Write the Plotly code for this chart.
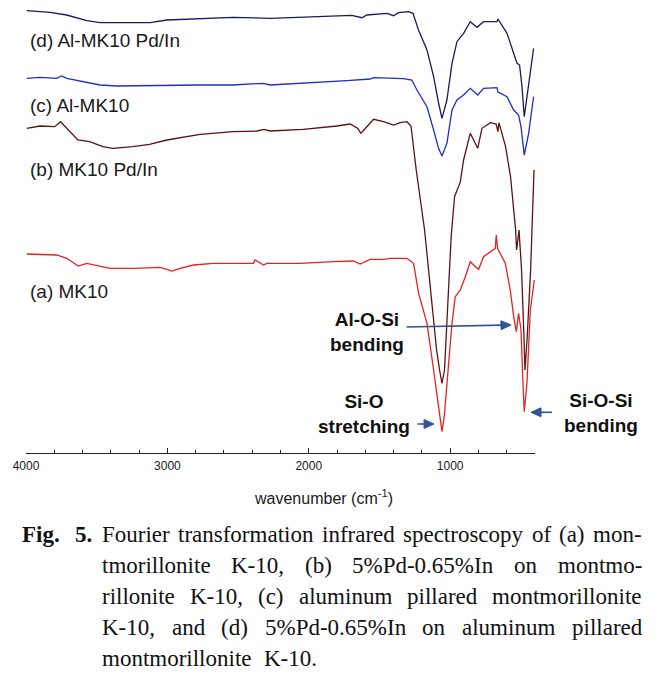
import math
import plotly.graph_objects as go

# ---------------- data ----------------
# wavenumber (cm-1) and stacked relative transmittance (a.u.)
wn_d = [3995, 3830, 3712, 3570, 3476, 3358, 3122, 3004, 2769, 2535,
        2273, 2040, 1801, 1695, 1624, 1589, 1447, 1400, 1365, 1295,
        1263, 1224, 1164, 1117, 1082, 1058, 1023, 987, 952, 905,
        858, 810, 764, 669, 662, 598, 551, 527, 509, 492,
        476, 445, 410]
t_d = [442.3, 440.7, 438, 432.3, 430.3, 430.3, 430.3, 433, 434.7, 435.7,
       434.7, 435.7, 437, 437.7, 435.3, 438, 439.7, 437.3, 440.3, 441.3,
       439.7, 423, 403, 376.3, 350, 334.7, 353, 389.7, 411.3, 419.7,
       431.3, 425.7, 431.3, 431.3, 434, 419.7, 399.7, 389.7, 388, 366.3,
       336.3, 366.3, 404.7]

wn_c = [3995, 3901, 3783, 3748, 3712, 3594, 3476, 3358, 3004, 2769,
        2535, 2323, 2273, 2040, 1731, 1566, 1542, 1330, 1271, 1235,
        1164, 1117, 1082, 1058, 1023, 987, 952, 905, 858, 805,
        764, 669, 662, 598, 551, 516, 499, 476, 445, 410]
t_c = [374.7, 375.7, 374.7, 377, 374.7, 371.3, 368, 367, 368, 368,
       368, 369.7, 368, 369.7, 372.3, 374, 375.3, 374.3, 373, 363,
       346.3, 323, 304.7, 297, 309.7, 343, 353, 358, 364.7, 358,
       364.7, 365.3, 361, 356.3, 343, 338, 326.3, 298, 319.7, 356.3]

wn_b = [3995, 3901, 3797, 3755, 3727, 3680, 3633, 3550, 3456, 3386,
        3245, 3127, 3004, 2769, 2535, 2365, 2318, 2273, 2040, 1801,
        1707, 1655, 1631, 1589, 1542, 1471, 1400, 1353, 1306, 1277,
        1240, 1181, 1132, 1096, 1075, 1058, 1040, 1016, 993, 969,
        928, 905, 858, 805, 775, 715, 675, 662, 655, 608,
        573, 537, 530, 513, 495, 478, 471, 455, 431, 407]
t_b = [324.7, 327, 326.3, 331.3, 327, 319.7, 313, 311.3, 306.3, 304.7,
       306.3, 308.7, 313, 318.7, 321.3, 322, 323.7, 322, 323.7, 327,
       329, 324.7, 319.7, 326.3, 333.7, 331.3, 328, 330.3, 331.3, 327,
       283, 223, 153, 103, 83, 69.7, 83, 149.7, 216.3, 256.3,
       271.3, 293, 319.7, 304.7, 324.7, 330.3, 329, 321.3, 330.3, 306.3,
       276.3, 223, 203, 223, 183, 116.3, 83, 116.3, 183, 283]

wn_a = [3995, 3783, 3712, 3630, 3570, 3405, 3240, 3052, 3004, 2969,
        2910, 2816, 2675, 2533, 2391, 2380, 2320, 2297, 2061, 1826,
        1684, 1637, 1566, 1471, 1424, 1306, 1259, 1223, 1164, 1117,
        1082, 1058, 1042, 1023, 987, 964, 928, 893, 858, 834,
        799, 764, 716, 681, 674, 665, 610, 575, 551, 532,
        516, 499, 485, 476, 457, 433, 405]
t_a = [199, 198, 194.7, 187, 189.7, 184.7, 184.7, 185.7, 183.7, 182,
       184.7, 188, 189.7, 189.7, 189.7, 193, 188, 189.7, 189.7, 191.3,
       192, 189, 193.7, 193.7, 194.7, 194.7, 189.7, 159.7, 129.7, 83,
       43, 21.3, 36.3, 66.3, 129.7, 156.3, 163, 176.3, 191.3, 188,
       183.7, 196.3, 201.3, 204.7, 218, 204.7, 189.7, 163, 136.3, 121.3,
       139.7, 123, 69.7, 41.3, 69.7, 143, 173]

series_names = ["(d) Al-MK10 Pd/In", "(c) Al-MK10", "(b) MK10 Pd/In", "(a) MK10"]
series_colors = ["#1a1d58", "#1f2fc8", "#5a1414", "#e52222"]
series_x = [wn_d, wn_c, wn_b, wn_a]
series_y = [t_d, t_c, t_b, t_a]

x_ticks = [4000, 3000, 2000, 1000]
x_range = [4000, 400]
y_range = [0, 450]

caption_lines = [
    "Fourier transformation infrared spectroscopy of (a) mon-",
    "tmorillonite K-10, (b) 5%Pd-0.65%In on montmo-",
    "rillonite K-10, (c) aluminum pillared montmorillonite",
    "K-10, and (d) 5%Pd-0.65%In on aluminum pillared",
    "montmorillonite K-10.",
]

# ---------------- layout helpers ----------------
W, H = 660, 682
L, R, T, B = 26, 125, 3, 229
PW, PH = W - L - R, H - T - B


def px(x):
    return (x - L) / PW


def py(y):
    return (H - B - y) / PH


fig = go.Figure()
for xs, ys, name, col in zip(series_x, series_y, series_names, series_colors):
    fig.add_trace(go.Scatter(x=xs, y=ys, mode="lines", name=name,
                             line=dict(color=col, width=1.3)))

ann = []
label_y = [40.5, 105, 170, 291.5]
for name, yy in zip(series_names, label_y):
    ann.append(dict(xref="paper", yref="paper", x=px(28), y=py(yy), text=name,
                    showarrow=False, xanchor="left", yanchor="middle",
                    font=dict(family="Liberation Sans", size=19, color="#1a1a1a")))

bold_font = dict(family="Liberation Sans", size=19, color="#111111")
ann.append(dict(xref="paper", yref="paper", x=px(367), y=py(331.5),
                text="<b>Al-O-Si</b><br><b>bending</b>", showarrow=False,
                xanchor="center", yanchor="middle", align="center", font=bold_font))
ann.append(dict(xref="paper", yref="paper", x=px(364), y=py(413.5),
                text="<b>Si-O</b><br><b>stretching</b>", showarrow=False,
                xanchor="center", yanchor="middle", align="center", font=bold_font))
ann.append(dict(xref="paper", yref="paper", x=px(601), y=py(412.5),
                text="<b>Si-O-Si</b><br><b>bending</b>", showarrow=False,
                xanchor="center", yanchor="middle", align="center", font=bold_font))

# arrows drawn as shapes (shaft + filled triangular head)
arrow_col = "#2f5597"
shapes = []
for (x0, y0, x1, y1) in [(406.5, 327, 511, 325), (417.5, 424, 434, 424), (552, 412.3, 531, 412.3)]:
    dx, dy = x1 - x0, y1 - y0
    n = math.hypot(dx, dy)
    ux, uy = dx / n, dy / n
    hl, hw = 10, 4.5
    bx, by = x1 - ux * hl, y1 - uy * hl
    shapes.append(dict(type="line", xref="paper", yref="paper",
                       x0=px(x0), y0=py(y0), x1=px(bx + ux), y1=py(by + uy),
                       line=dict(color=arrow_col, width=1.6)))
    p1 = (bx - uy * hw, by + ux * hw)
    p2 = (bx + uy * hw, by - ux * hw)
    path = "M {:.5f},{:.5f} L {:.5f},{:.5f} L {:.5f},{:.5f} Z".format(
        px(x1), py(y1), px(p1[0]), py(p1[1]), px(p2[0]), py(p2[1]))
    shapes.append(dict(type="path", xref="paper", yref="paper", path=path,
                       fillcolor=arrow_col, line=dict(color=arrow_col, width=1)))

# x-axis title
ann.append(dict(xref="paper", yref="paper", x=px(323.5), y=py(497),
                text="wavenumber (cm<sup>-1</sup>)", showarrow=False,
                xanchor="center", yanchor="middle",
                font=dict(family="Liberation Sans", size=16, color="#1a1a1a")))

# ---------------- caption (justified, Times metrics) ----------------
CF = 23
TW = {' ': 250, '%': 833, '(': 333, ')': 333, ',': 250, '-': 333, '.': 250,
      'A': 722, 'F': 556, 'I': 333, 'K': 722, 'P': 556,
      'a': 444, 'b': 500, 'c': 444, 'd': 500, 'e': 444, 'f': 333, 'g': 500,
      'h': 500, 'i': 278, 'l': 278, 'm': 778, 'n': 500, 'o': 500, 'p': 500,
      'r': 333, 's': 389, 't': 278, 'u': 500, 'y': 500}


def tw(s):
    return sum(TW.get(ch, 500) for ch in s) / 1000 * CF


cap_font = dict(family="Liberation Serif", size=CF, color="#111111")
x_fig, x_five, x_start, x_end = 20, 94, 101, 641
cap_y = [534, 565, 596, 627, 658]
ann.append(dict(xref="paper", yref="paper", x=px(x_fig), y=py(cap_y[0]),
                text="<b>Fig.</b>", showarrow=False, xanchor="left",
                yanchor="middle", font=cap_font))
ann.append(dict(xref="paper", yref="paper", x=px(x_five), y=py(cap_y[0]),
                text="<b>5.</b>", showarrow=False, xanchor="right",
                yanchor="middle", font=cap_font))
for i, line in enumerate(caption_lines):
    words = line.split(" ")
    if i < len(caption_lines) - 1:
        total = sum(tw(w) for w in words)
        gap = (x_end - x_start - total) / (len(words) - 1)
    else:
        gap = tw(" ") * 2.2
    xc = x_start
    for w in words:
        ann.append(dict(xref="paper", yref="paper", x=px(xc), y=py(cap_y[i]),
                        text=w, showarrow=False, xanchor="left", yanchor="middle",
                        xshift=-1, font=cap_font))
        xc += tw(w) + gap

fig.update_layout(
    width=W, height=H, margin=dict(l=L, r=R, t=T, b=B, pad=0),
    paper_bgcolor="white", plot_bgcolor="white", showlegend=False,
    annotations=ann, shapes=shapes,
    xaxis=dict(range=x_range, tickvals=x_ticks, showline=True, linecolor="#222222",
               linewidth=1, ticks="inside", ticklen=5, tickcolor="#222222",
               showgrid=False, zeroline=False, ticklabelstandoff=2,
               minor=dict(dtick=200, tick0=0, ticks="inside", ticklen=3,
                          tickcolor="#222222", showgrid=False),
               tickfont=dict(family="Liberation Sans", size=12, color="#1a1a1a")),
    yaxis=dict(range=y_range, visible=False, showgrid=False, zeroline=False),
)

fig.write_html("out.html", config={"displayModeBar": False},
               post_script="document.body.style.margin='0';"
                           "document.body.style.overflow='hidden';")
